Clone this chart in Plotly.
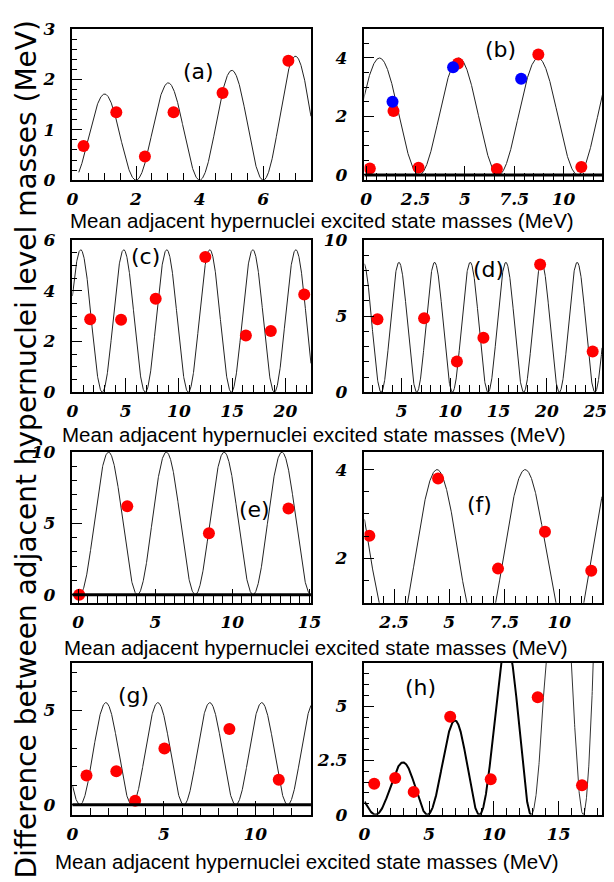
import numpy as np
import plotly.graph_objects as go

# page is 614x882; the html body has an 8px default margin, so the figure is drawn
# 8px in from the top-left corner and is made 8px smaller to fit.
PAGE_W, PAGE_H = 614, 882
OFF = 8
W, H = PAGE_W - OFF, PAGE_H - OFF


def fx(px):
    return (px - OFF) / W


def fy(py):
    return 1 - (py - OFF) / H


# ---------------- data ----------------
a_x = [0.35, 1.38, 2.28, 3.18, 4.72, 6.79]
a_y = [0.68, 1.35, 0.47, 1.35, 1.73, 2.37]

b_red_x = [0.18, 1.38, 2.65, 4.65, 6.62, 8.72, 10.9]
b_red_y = [0.22, 2.19, 0.25, 3.81, 0.20, 4.12, 0.27]
b_blue_x = [1.33, 4.40, 7.85]
b_blue_y = [2.50, 3.68, 3.29]

c_x = [1.67, 4.57, 7.82, 12.48, 16.29, 18.63, 21.77]
c_y = [2.88, 2.86, 3.69, 5.33, 2.24, 2.41, 3.85]

d_x = [2.49, 7.31, 10.7, 13.44, 19.3, 24.73]
d_y = [4.80, 4.86, 2.02, 3.58, 8.39, 2.68]

e_x = [0.06, 3.18, 8.48, 13.64]
e_y = [0.00, 6.21, 4.31, 6.04]

f_x = [1.38, 4.50, 7.22, 9.35, 11.45]
f_y = [2.51, 3.80, 1.77, 2.60, 1.72]

g_x = [0.77, 2.40, 3.43, 5.03, 8.58, 11.28]
g_y = [1.55, 1.77, 0.22, 2.98, 4.00, 1.33]

h_x = [0.75, 2.37, 3.80, 6.62, 9.75, 13.38, 16.80]
h_y = [1.43, 1.69, 1.05, 4.52, 1.63, 5.42, 1.36]

# fitted curves  y = A(x) * sin^2(pi (x - zero) / period),  A(x) = amp * exp(growth * (x - amp_at))
panels = ["a", "b", "c", "d", "e", "f", "g", "h"]
fit_amp = [1.71, 4.0, 5.62, 8.54, 10.0, 4.0, 5.4, 2.44]
fit_amp_at = [1.0, 0.0, 0.0, 0.0, 0.0, 0.0, 0.0, 3.0]
fit_growth = [0.0606, 0, 0, 0, 0, 0, 0, 0.147]
fit_period = [2.0, 4.02, 4.04, 3.683, 3.75, 4.0, 2.84, 4.01]
fit_zero = [0.0, 2.68, 2.80, 2.87, 0.09, 2.45, 0.41, 0.85]
fit_xmin = [0.2, -0.18, 0.0, 1.15, 0.0, 1.16, 0.0, 0.0]
fit_xmax = [7.5, 12.0, 22.4, 25.7, 15.1, 11.94, 13.04, 18.35]
h_thick_end = 12.87

# axis ranges and ticks
x_ranges = [[0, 7.5], [-0.09, 11.95], [0, 22.4], [1.15, 25.7],
            [-0.38, 15.1], [1.16, 11.94], [0, 13.04], [0.0, 18.35]]
y_ranges = [[0, 3.005], [-0.18, 5.0], [0, 6.01], [0, 10.02],
            [-0.57, 10.02], [1.0, 4.4], [-0.52, 7.5], [0, 7.0]]
x_dtick = [2, 2.5, 5, 5, 5, 2.5, 5, 5]
x_minor = [0.5, 0.5, 1, 1, 0.625, 0.5, 1, 1]
y_dtick = [1, 2, 2, 5, 5, 2, 5, 2.5]
y_minor = [0.2, 0.5, 0.5, 1, 1, 0.5, 1, 0.5]
zero_line_panels = ["b", "e", "g"]

x_title = "Mean adjacent hypernuclei excited state masses (MeV)"
y_title = "Difference between adjacent hypernuclei level masses (MeV)"

# ---------------- layout geometry (page pixels) ----------------
cols = [(68, 313), (368, 612)]
rows = [(19, 174), (235, 391), (452, 606.5), (668, 823.3)]
label_pos = [(0.53, 0.72), (0.574, 0.864), (0.307, 0.893), (0.521, 0.807),
             (0.763, 0.619), (0.483, 0.652), (0.257, 0.785), (0.235, 0.839)]
xtitle_cx = [324.5, 316.5, 318.5, 309]
xtitle_cy = [215, 434, 652, 871]

fig = go.Figure()

point_sets = {
    "a": [(a_x, a_y, "red")],
    "b": [(b_red_x, b_red_y, "red"), (b_blue_x, b_blue_y, "blue")],
    "c": [(c_x, c_y, "red")],
    "d": [(d_x, d_y, "red")],
    "e": [(e_x, e_y, "red")],
    "f": [(f_x, f_y, "red")],
    "g": [(g_x, g_y, "red")],
    "h": [(h_x, h_y, "red")],
}

tickfont = dict(family="DejaVu Serif", size=17, color="black",
                weight="bold", style="italic")
shapes = []
annotations = []

for i, p in enumerate(panels):
    r, c = divmod(i, 2)
    x0, x1 = cols[c]
    y0, y1 = rows[r]
    xa = "x" if i == 0 else f"x{i+1}"
    ya = "y" if i == 0 else f"y{i+1}"
    xkey = "xaxis" if i == 0 else f"xaxis{i+1}"
    ykey = "yaxis" if i == 0 else f"yaxis{i+1}"

    # fitted curve
    xs = np.linspace(fit_xmin[i], fit_xmax[i], 1500)
    amp = fit_amp[i] * np.exp(fit_growth[i] * (xs - fit_amp_at[i]))
    ys = amp * np.sin(np.pi * (xs - fit_zero[i]) / fit_period[i]) ** 2
    if p == "h":
        m1 = xs <= h_thick_end
        fig.add_trace(go.Scatter(x=xs[m1], y=ys[m1], mode="lines", line=dict(color="black", width=2),
                                 xaxis=xa, yaxis=ya, showlegend=False, hoverinfo="skip"))
        m2 = xs >= h_thick_end
        fig.add_trace(go.Scatter(x=xs[m2], y=ys[m2], mode="lines", line=dict(color="#333", width=1),
                                 xaxis=xa, yaxis=ya, showlegend=False, hoverinfo="skip"))
    else:
        fig.add_trace(go.Scatter(x=xs, y=ys, mode="lines", line=dict(color="#222", width=1),
                                 xaxis=xa, yaxis=ya, showlegend=False, hoverinfo="skip"))

    for (px, py, col) in point_sets[p]:
        fig.add_trace(go.Scatter(x=px, y=py, mode="markers",
                                 marker=dict(color=col, size=12, line=dict(width=0)),
                                 xaxis=xa, yaxis=ya, showlegend=False))

    if p in zero_line_panels:
        shapes.append(dict(type="line", xref=f"{xa} domain", yref=ya, x0=0, x1=1, y0=0, y1=0,
                           line=dict(color="black", width=3)))

    fig.layout[xkey] = dict(
        domain=[fx(x0), fx(x1)], anchor=ya, range=x_ranges[i],
        showline=True, linecolor="black", linewidth=1.5, mirror=True,
        showgrid=False, zeroline=False,
        ticks="inside", ticklen=14, tickwidth=1, tickcolor="black",
        tickmode="linear", tick0=0, dtick=x_dtick[i],
        minor=dict(ticks="inside", ticklen=7, tickwidth=1, tickcolor="black",
                   tick0=0, dtick=x_minor[i], showgrid=False),
        tickfont=tickfont, ticklabelstandoff=3,
    )
    fig.layout[ykey] = dict(
        domain=[fy(y1), fy(y0)], anchor=xa, range=y_ranges[i],
        showline=True, linecolor="black", linewidth=1.5, mirror=True,
        showgrid=False, zeroline=False,
        ticks="inside", ticklen=10, tickwidth=1, tickcolor="black",
        tickmode="linear", tick0=0, dtick=y_dtick[i],
        minor=dict(ticks="inside", ticklen=5, tickwidth=1, tickcolor="black",
                   tick0=0, dtick=y_minor[i], showgrid=False),
        tickfont=tickfont, ticklabelstandoff=12,
    )

    lx, ly = label_pos[i]
    annotations.append(dict(text=f"({p})", xref=f"{xa} domain", yref=f"{ya} domain",
                            x=lx, y=ly, showarrow=False, xanchor="center", yanchor="middle",
                            font=dict(family="DejaVu Sans", size=22, color="black")))

for cx, cy in zip(xtitle_cx, xtitle_cy):
    annotations.append(dict(text=x_title, xref="paper", yref="paper", x=fx(cx), y=fy(cy),
                            showarrow=False, xanchor="center", yanchor="middle",
                            font=dict(family="Liberation Sans", size=20.5, color="black")))

annotations.append(dict(text=y_title, xref="paper", yref="paper", x=fx(21), y=fy(450),
                        showarrow=False, xanchor="center", yanchor="middle", textangle=-90,
                        font=dict(family="DejaVu Sans", size=28, color="black")))

fig.update_layout(
    width=W, height=H, margin=dict(l=0, r=0, t=0, b=0),
    paper_bgcolor="white", plot_bgcolor="white",
    shapes=shapes, annotations=annotations, showlegend=False,
)

fig.write_html("out.html")
